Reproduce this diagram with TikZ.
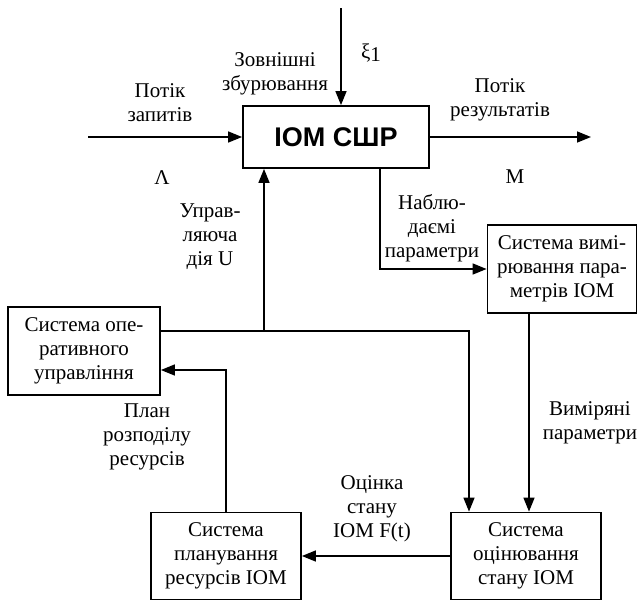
\documentclass[tikz,border=0pt]{standalone}
\usepackage{fontspec}
\setmainfont{Liberation Serif}
\newfontfamily\arialfont{Liberation Sans}
\usetikzlibrary{arrows.meta}

\begin{document}
\begin{tikzpicture} [x=1pt, y=-1pt, line width=1.5pt, >={Triangle[length=14pt,width=11pt]}, block/.style={rectangle, draw, line width=1.8pt, align=center}, txt/.style={align=center, inner sep=0pt}]
{\fontsize{21}{24}\selectfont
	\useasboundingbox (0,0) rectangle (638,603);

	% blocks
	\node [block, minimum width=186pt, minimum height=62pt, font=\arialfont\bfseries\fontsize{27}{30}\selectfont] (iom) at (336,137) {ІОМ СШР};
	\node [block, minimum width=149pt, minimum height=88pt] (meas) at (562,269) {Система вимі-\\рювання пара-\\метрів ІОМ};
	\node [block, minimum width=152pt, minimum height=88pt] (ctrl) at (84,351) {Система опе-\\ративного\\управління};
	\node [block, minimum width=150pt, minimum height=87pt] (plan) at (226,556) {Система\\планування\\ресурсів ІОМ};
	\node [block, minimum width=150pt, minimum height=87pt] (est) at (526,556) {Система\\оцінювання\\стану ІОМ};

	% free ends
	\coordinate (xi) at (341,8);
	\coordinate (in) at (88,137);
	\coordinate (out) at (591,137);
	\coordinate (jn) at (264,331);

	% draw edges
	\draw [->] (xi) -- (xi |- iom.north);
	\draw [->] (in) -- (iom.west);
	\draw [->] (iom.east) -- (out);
	\draw [->] (jn) -- (jn |- iom.south);
	\draw (ctrl.east |- jn) -- (jn);
	\draw [->] (jn) -| ([xshift=-57pt]est.north);
	\draw [->] ([xshift=44pt]iom.south) |- (meas.west);
	\draw [->] ([xshift=-33pt]meas.south) -- ([xshift=-33pt]meas.south |- est.north);
	\draw [->] (est.west) -- (plan.east);
	\draw [->] (plan.north) |- ([yshift=-19pt]ctrl.east);

	% labels
	\node [txt] (lbl_xi) at (371,53) {ξ\raisebox{-0.35ex}{1}};
	\node [txt] (lbl_ext) at (275,74) {Зовнішні\\збурювання};
	\node [txt] (lbl_in) at (160,103) {Потік\\запитів};
	\node [txt] (lbl_out) at (500,100) {Потік\\результатів};
	\node [txt] (lbl_lam) at (162,178) {Λ};
	\node [txt] (lbl_mu) at (515,177) {М};
	\node [txt] (lbl_u) at (210,237) {Управ-\\ляюча\\дія U};
	\node [txt] (lbl_obs) at (432,228) {Наблю-\\даємі\\параметри};
	\node [txt] (lbl_meas) at (590,423) {Виміряні\\параметри};
	\node [txt] (lbl_plan) at (147,437) {План\\розподілу\\ресурсів};
	\node [txt] (lbl_est) at (372,509) {Оцінка\\стану\\ІОМ F(t)};
}
\end{tikzpicture}
\end{document}
